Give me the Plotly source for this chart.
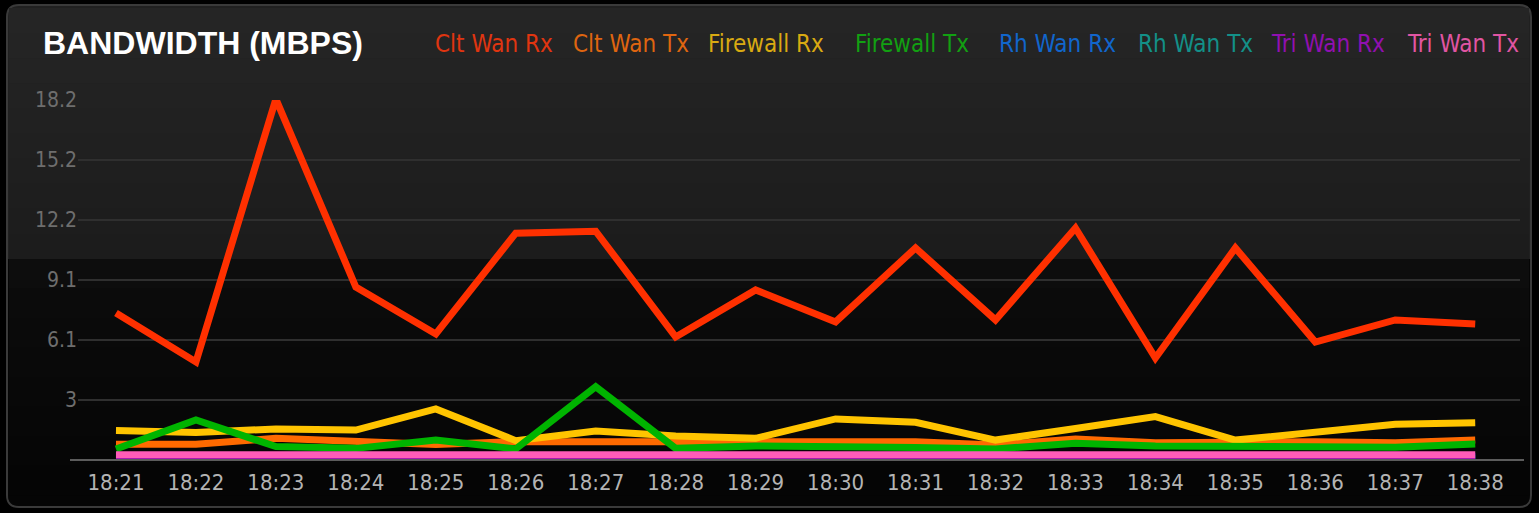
import plotly.graph_objects as go

categories = ["18:21", "18:22", "18:23", "18:24", "18:25", "18:26", "18:27", "18:28", "18:29",
              "18:30", "18:31", "18:32", "18:33", "18:34", "18:35", "18:36", "18:37", "18:38"]

series_names = ["Clt Wan Rx", "Clt Wan Tx", "Firewall Rx", "Firewall Tx",
                "Rh Wan Rx", "Rh Wan Tx", "Tri Wan Rx", "Tri Wan Tx"]

clt_wan_rx = [7.45, 4.97, 18.3, 8.77, 6.39, 11.5, 11.6, 6.24, 8.62, 7.0, 10.75, 7.1, 11.76, 5.17, 10.75, 5.98, 7.1, 6.9]
clt_wan_tx = [0.80, 0.80, 1.10, 0.93, 0.78, 0.93, 0.93, 0.88, 0.93, 0.85, 0.93, 0.76, 1.06, 0.88, 0.93, 0.93, 0.88, 1.01]
firewall_rx = [1.49, 1.40, 1.57, 1.52, 2.59, 0.98, 1.47, 1.22, 1.10, 2.08, 1.91, 1.01, 1.60, 2.20, 1.01, 1.40, 1.81, 1.89]
firewall_tx = [0.56, 2.03, 0.68, 0.59, 1.01, 0.56, 3.72, 0.59, 0.71, 0.63, 0.63, 0.56, 0.85, 0.71, 0.68, 0.71, 0.65, 0.81]
rh_wan_rx = [0.15] * 18
rh_wan_tx = [0.08, 0.08, 0.08, 0.08, 0.08, 0.08, 0.08, 0.06, 0.06, 0.06, 0.06, 0.06, 0.06, 0.08, 0.08, 0.08, 0.08, 0.08]
tri_wan_rx = [0.18] * 18
tri_wan_tx = [0.26] * 18

series_values = [clt_wan_rx, clt_wan_tx, firewall_rx, firewall_tx, rh_wan_rx, rh_wan_tx, tri_wan_rx, tri_wan_tx]

line_colors = ["#ff3000", "#ff6a00", "#ffc400", "#00b400", "#0066cc", "#008b8b", "#8b00b0", "#ff5cb8"]
legend_colors = ["#e03510", "#df6510", "#d9aa12", "#12a012", "#1166cc", "#139088", "#9010b0", "#e055a2"]
legend_x = [433, 571, 706, 853, 997, 1136, 1269, 1405]

y_tickvals = [3.04, 6.08, 9.125, 12.17, 15.21, 18.25]
y_ticktext = ["3", "6.1", "9.1", "12.2", "15.2", "18.2"]

W, H = 1539, 513
ML, MR, MT, MB = 78, 19, 100, 53
PW, PH = W - ML - MR, H - MT - MB

def px(x):
    return (x - ML) / PW

def py(y):
    return (H - MB - y) / PH

def rrect(x0, y0, x1, y1, r, top=True, bottom=True):
    rt = r if top else 0
    rb = r if bottom else 0
    p = f"M {px(x0 + rt)},{py(y0)} L {px(x1 - rt)},{py(y0)} "
    if rt:
        p += f"Q {px(x1)},{py(y0)} {px(x1)},{py(y0 + rt)} "
    p += f"L {px(x1)},{py(y1 - rb)} "
    if rb:
        p += f"Q {px(x1)},{py(y1)} {px(x1 - rb)},{py(y1)} "
    p += f"L {px(x0 + rb)},{py(y1)} "
    if rb:
        p += f"Q {px(x0)},{py(y1)} {px(x0)},{py(y1 - rb)} "
    p += f"L {px(x0)},{py(y0 + rt)} "
    if rt:
        p += f"Q {px(x0)},{py(y0)} {px(x0 + rt)},{py(y0)} "
    p += "Z"
    return p

shapes = []
shapes.append(dict(type="path", xref="paper", yref="paper", layer="below",
                   path=rrect(7, 5, 1531, 507, 12), fillcolor="#202020",
                   line=dict(color="#3a3a3a", width=2)))
top_bands = ["#252525", "#242424", "#232323", "#222222", "#212121", "#202020", "#1f1f1f", "#1e1e1e", "#1d1d1d", "#1c1c1c"]
y0 = 8
step = (259 - 8) / len(top_bands)
for i, c in enumerate(top_bands):
    shapes.append(dict(type="rect", xref="paper", yref="paper", layer="below",
                       x0=px(9), x1=px(1529), y0=py(y0 + i * step), y1=py(y0 + (i + 1) * step + 0.5),
                       fillcolor=c, line=dict(width=0)))
shapes.append(dict(type="path", xref="paper", yref="paper", layer="below",
                   path=rrect(8, 259, 1530, 506, 11, top=False), fillcolor="#050505",
                   line=dict(width=0)))
low_bands = ["#0d0d0d", "#0b0b0b", "#0a0a0a", "#090909", "#080808", "#070707", "#060606", "#050505"]
step = (495 - 259) / len(low_bands)
for i, c in enumerate(low_bands):
    shapes.append(dict(type="rect", xref="paper", yref="paper", layer="below",
                       x0=px(9), x1=px(1529), y0=py(259 + i * step), y1=py(259 + (i + 1) * step + 0.5),
                       fillcolor=c, line=dict(width=0)))
shapes.append(dict(type="line", xref="paper", yref="paper", layer="above",
                   x0=px(70), x1=px(1524), y0=0, y1=0,
                   line=dict(color="#5c5c5c", width=2)))

fig = go.Figure()
for name, vals, col in zip(series_names, series_values, line_colors):
    fig.add_trace(go.Scatter(x=categories, y=vals, name=name, mode="lines",
                             line=dict(color=col, width=7), cliponaxis=False,
                             hoverinfo="skip", showlegend=False))

narrow = "DejaVu Sans Condensed, sans-serif"

annotations = [dict(text="BANDWIDTH (MBPS)", xref="paper", yref="paper",
                    x=px(41), y=py(43), xanchor="left", yanchor="middle", showarrow=False,
                    font=dict(family="Liberation Sans, Arial, sans-serif", size=32, color="#ffffff", weight="bold"))]
for name, col, lx in zip(series_names, legend_colors, legend_x):
    annotations.append(dict(text=name, xref="paper", yref="paper", x=px(lx), y=py(44),
                            xanchor="left", yanchor="middle", showarrow=False,
                            font=dict(family=narrow, size=24, color=col)))

fig.update_layout(
    width=W, height=H,
    margin=dict(l=ML, r=MR, t=MT, b=MB, pad=0),
    paper_bgcolor="#000000", plot_bgcolor="rgba(0,0,0,0)",
    shapes=shapes, annotations=annotations,
    xaxis=dict(type="category", categoryorder="array", categoryarray=categories,
               range=[-0.475, 17.56], showgrid=False, zeroline=False, showline=False,
               ticks="outside", ticklen=3, tickcolor="rgba(0,0,0,0)",
               tickfont=dict(family=narrow, size=22, color="#b4b4b4"), fixedrange=True),
    yaxis=dict(range=[0, 18.25], tickvals=y_tickvals, ticktext=y_ticktext,
               showgrid=True, gridcolor="#2f2f2f", gridwidth=2, zeroline=False, showline=False,
               ticks="", tickfont=dict(family=narrow, size=21, color="#6e6e6e"), fixedrange=True),
    showlegend=False,
)

fig.write_html("out.html", config={"displayModeBar": False},
               post_script="document.body.style.margin='0';document.body.style.background='#000';")
